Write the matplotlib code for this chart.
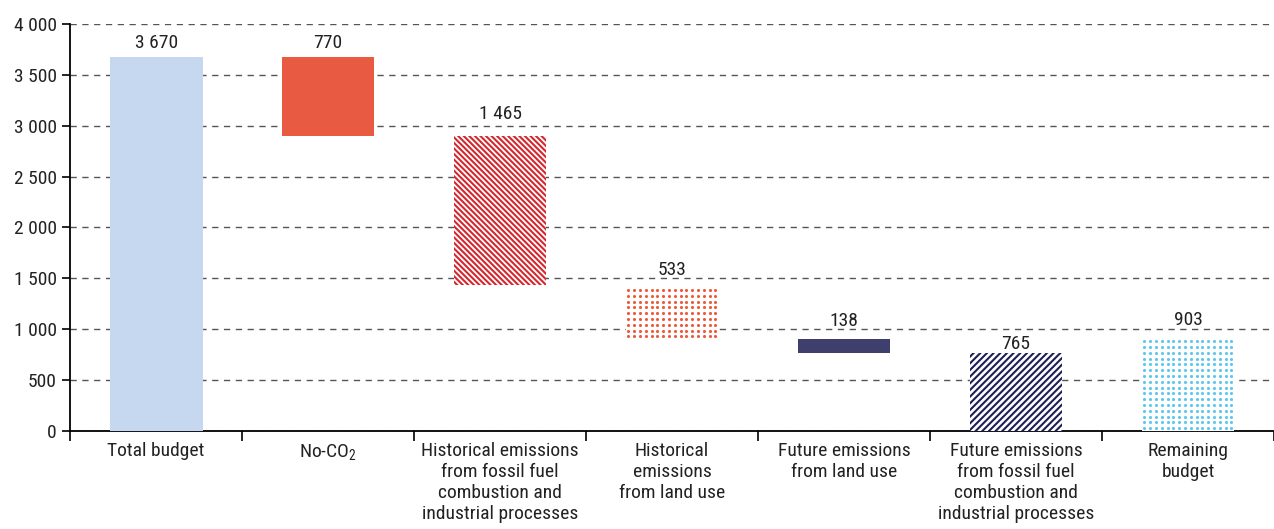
import numpy as np
import matplotlib.pyplot as plt
from matplotlib import font_manager

names = {f.name for f in font_manager.fontManager.ttflist}
narrow = [n for n in ["Roboto Condensed", "DejaVu Sans Condensed", "Liberation Sans Narrow",
                      "Liberation Sans"] if n in names]
plt.rcParams['font.family'] = narrow[:1] + ['DejaVu Sans']
plt.rcParams['mathtext.default'] = 'regular'
plt.rcParams['hatch.linewidth'] = 1.5

# Data
categories = ["Total budget", "No-CO$_2$",
              "Historical emissions\nfrom fossil fuel\ncombustion and\nindustrial processes",
              "Historical\nemissions\nfrom land use",
              "Future emissions\nfrom land use",
              "Future emissions\nfrom fossil fuel\ncombustion and\nindustrial processes",
              "Remaining\nbudget"]
values = [3670, 770, 1465, 533, 138, 765, 903]
value_labels = ["3 670", "770", "1 465", "533", "138", "765", "903"]
y_ticks = [0, 500, 1000, 1500, 2000, 2500, 3000, 3500, 4000]

# waterfall: first four deductions step down from the total, last two start at zero
bottoms = [0]
level = values[0]
for v in values[1:5]:
    level -= v
    bottoms.append(level)
bottoms += [0, 0]

# Styles
face = ["#c5d8ef", "#e85a42", "white", "white", "#3f3f6d", "white", "white"]
edge = ["#c5d8ef", "#e85a42", "#d3282f", "#ec5a3c", "#3f3f6d", "#1e1e58", "#5cc8ee"]
hatch = [None, None, "\\" * 6, None, None, "/" * 5, None]
dotted = [False, False, False, True, False, False, True]
label_pad = [4, 4, 9, 4, 7, 0.5, 7.5]   # points above the bar top
BAR_W = 0.54

fig = plt.figure(figsize=(12.74, 5.29), dpi=100)
ax = fig.add_axes([0.055, 0.185, 0.945, 0.77])

x = list(range(len(categories)))
for i in x:
    ax.bar(i, values[i], bottom=bottoms[i], width=BAR_W, color=face[i],
           edgecolor=edge[i], hatch=hatch[i], linewidth=0, zorder=3)
    if dotted[i]:
        # square grid of dots filling the bar
        dx, dy = 0.0337, 57.0
        xs = np.arange(i - BAR_W / 2 + dx / 2, i + BAR_W / 2, dx)
        ys = np.arange(bottoms[i] + dy / 2, bottoms[i] + values[i], dy)
        gx, gy = np.meshgrid(xs, ys)
        ax.scatter(gx.ravel(), gy.ravel(), s=5, color=edge[i], linewidths=0, zorder=4)
    ax.annotate(value_labels[i], (i, bottoms[i] + values[i]), xytext=(0, label_pad[i]),
                textcoords="offset points", ha="center", va="bottom",
                fontsize=14, color="#222222")

ax.set_xlim(-0.5, len(categories) - 0.5)
ax.set_ylim(0, 4000)
ax.set_yticks(y_ticks)
ax.set_yticklabels([f"{t:,}".replace(",", " ") for t in y_ticks])
ax.yaxis.grid(True, linestyle=(0, (4.5, 4)), color="#555555", linewidth=1.0, zorder=0)
ax.set_axisbelow(True)

# ticks on category boundaries, labels centred under bars
ax.set_xticks([i - 0.5 for i in x] + [len(x) - 0.5])
ax.set_xticklabels([])
ax.set_xticks(x, minor=True)
ax.set_xticklabels(categories, minor=True, fontsize=14, color="#222222",
                   va="top", linespacing=1.22)
ax.tick_params(axis="x", which="minor", length=0, pad=8)
ax.tick_params(axis="x", which="major", length=7, width=1.2, direction="out")
ax.tick_params(axis="y", length=6, width=1.2, labelsize=14, labelcolor="#222222")

for s in ["top", "right"]:
    ax.spines[s].set_visible(False)
ax.spines["left"].set_linewidth(1.3)
ax.spines["bottom"].set_linewidth(1.3)

fig.savefig("out.png", dpi=100)
